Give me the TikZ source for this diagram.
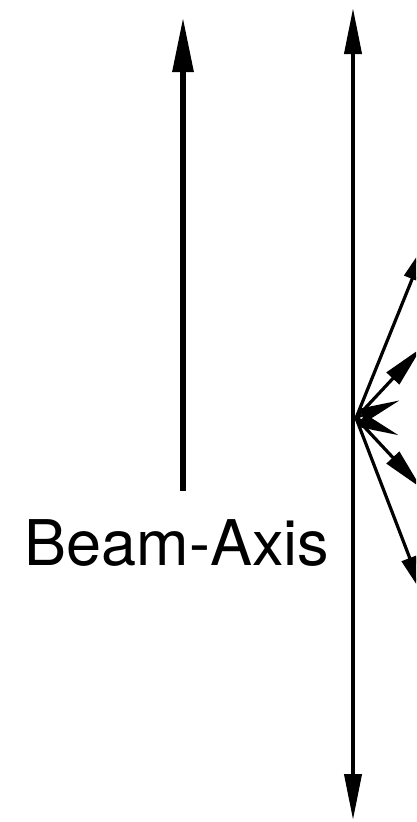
\documentclass[tikz,border=0pt]{standalone}
\usepackage{fontspec}
\setmainfont{TeX Gyre Heros}
\usetikzlibrary{arrows.meta,positioning}
\definecolor{ink}{RGB}{0,0,0}
\tikzset{
  beam/.style={-{Triangle[length=55pt,width=20pt]},line width=6pt,draw=ink},
  axis line/.style={{Triangle[length=46pt,width=17pt]}-{Triangle[length=46pt,width=17pt]},line width=4pt,draw=ink},
  track/.style={-{Triangle[length=42pt,width=17pt]},line width=3.2pt,draw=ink},
  spike/.style={-{Triangle[length=40pt,width=14pt]},line width=2.4pt,draw=ink},
  tag/.style={font=\fontsize{63}{70}\selectfont,text=ink,inner sep=0pt},
}

\begin{document}
\begin{tikzpicture}[x=1pt,y=-1pt]
  \clip (0,0) rectangle (416,822);
  % beam direction
  \coordinate (beam-start) at (183,491);
  \coordinate (beam-end) at (183,17);
  \draw[beam] (beam-start) -- (beam-end);
  \node[tag,anchor=base] (beam-label) at (177,565) {Beam-Axis};
  % detector axis
  \coordinate (axis-top) at (353,8);
  \coordinate (axis-bot) at (353,820);
  \draw[axis line] (axis-bot) -- (axis-top);
  % vertex and outgoing tracks
  \coordinate (vtx) at (356,418);
  \foreach \a/\l [count=\i] in {-68/192,-47/96,47/96,69/192}
    \draw[track] (vtx) -- ++(\a:\l) coordinate (trk\i);
  \foreach \a/\l [count=\i] in {-22/47,22/46}
    \draw[spike] (vtx) -- ++(\a:\l) coordinate (spk\i);
\end{tikzpicture}
\end{document}
